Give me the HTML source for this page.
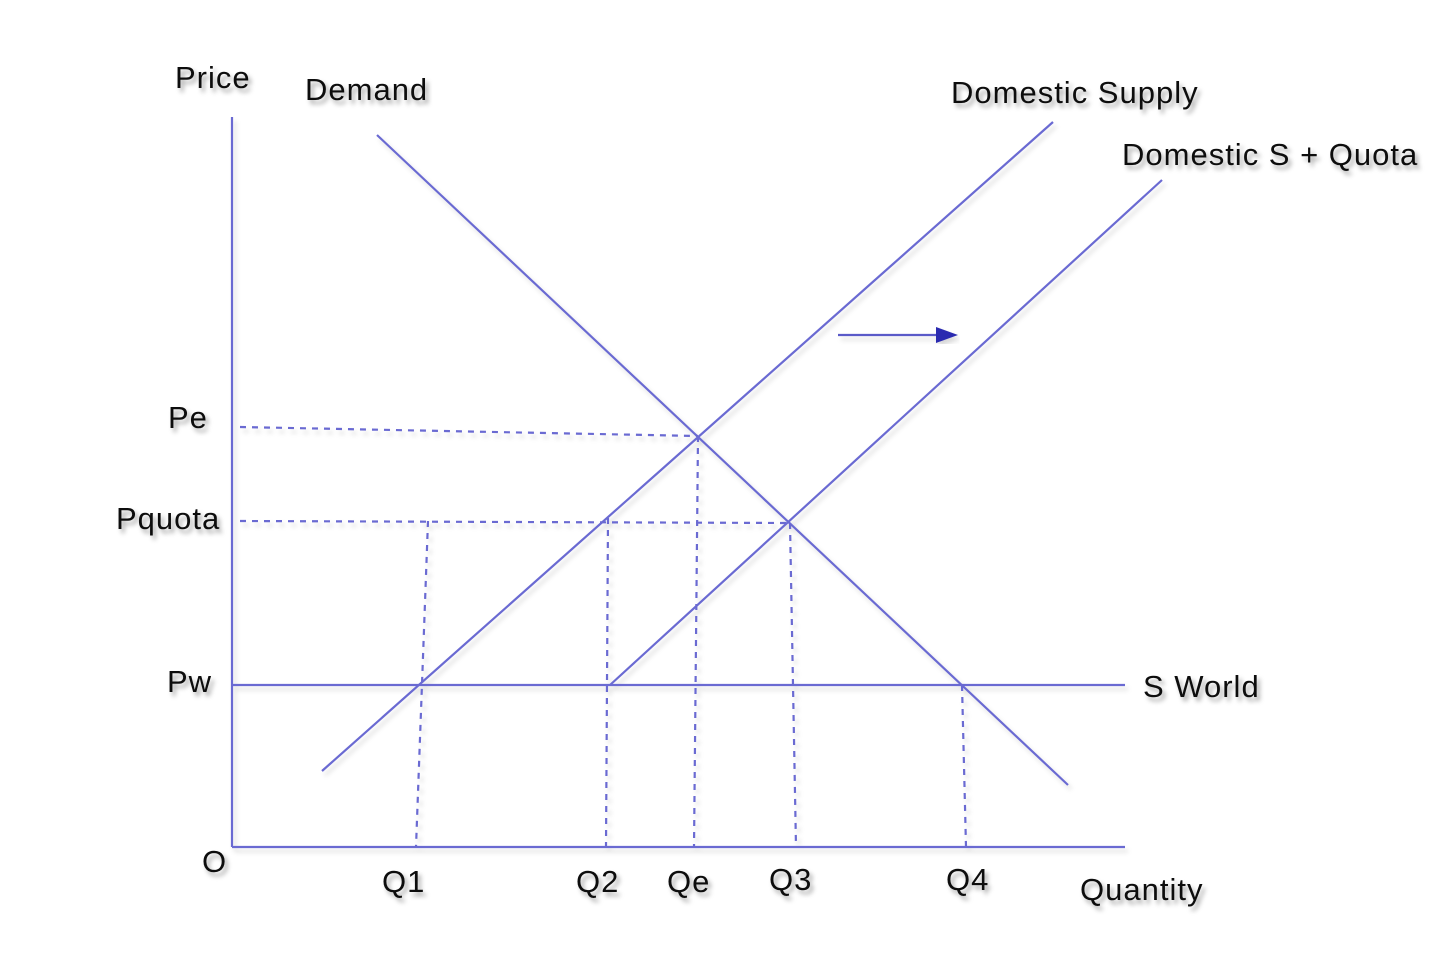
<!DOCTYPE html>
<html><head><style>
body{margin:0;background:#fff;}
svg text{font-family:"Liberation Sans",sans-serif;font-size:31px;letter-spacing:1px;fill:#111;filter:url(#sh);}
</style></head><body>
<svg width="1440" height="964" viewBox="0 0 1440 964" xmlns="http://www.w3.org/2000/svg">
<defs>
<filter id="sh" x="-20%" y="-30%" width="150%" height="180%"><feDropShadow dx="3" dy="4" stdDeviation="2.5" flood-color="#000" flood-opacity="0.35"/></filter>
<filter id="lsh" x="-5%" y="-5%" width="110%" height="110%"><feDropShadow dx="3" dy="4" stdDeviation="2.5" flood-color="#000" flood-opacity="0.15"/></filter>
</defs>
<g stroke="#6a6ad2" stroke-width="2.2" fill="none" filter="url(#lsh)">
<line x1="232" y1="117" x2="232" y2="847"/>
<line x1="232" y1="847" x2="1125" y2="847"/>
<line x1="232" y1="685" x2="1125" y2="685"/>
<line x1="377" y1="135" x2="1068" y2="785"/>
<line x1="322" y1="771" x2="1053" y2="122"/>
<line x1="610" y1="685" x2="1162" y2="180"/>
<line x1="838" y1="335" x2="940" y2="335" stroke="#5a5ac8"/>
<g stroke-dasharray="6,6">
<line x1="240" y1="427" x2="698" y2="436"/>
<line x1="240" y1="521" x2="788" y2="523"/>
<line x1="428" y1="521" x2="416" y2="847"/>
<line x1="608" y1="518" x2="606" y2="847"/>
<line x1="698" y1="436" x2="694" y2="847"/>
<line x1="790" y1="523" x2="796" y2="847"/>
<line x1="962" y1="685" x2="966" y2="847"/>
</g>
</g>
<polygon points="936,327 958,335 936,343" fill="#2a2ab0" filter="url(#lsh)"/>
<text x="175" y="88">Price</text>
<text x="305" y="100">Demand</text>
<text x="951" y="103">Domestic Supply</text>
<text x="1122" y="165">Domestic S + Quota</text>
<text x="168" y="428">Pe</text>
<text x="116" y="529">Pquota</text>
<text x="167" y="692">Pw</text>
<text x="1143" y="697">S World</text>
<text x="202" y="872">O</text>
<text x="382" y="892">Q1</text>
<text x="576" y="892">Q2</text>
<text x="667" y="892">Qe</text>
<text x="769" y="890">Q3</text>
<text x="946" y="890">Q4</text>
<text x="1080" y="900">Quantity</text>
</svg>
</body></html>
